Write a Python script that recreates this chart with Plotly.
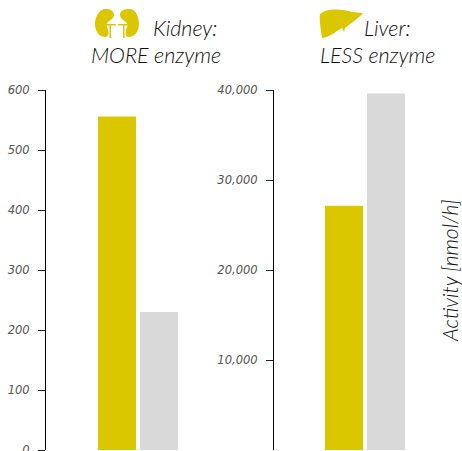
import plotly.graph_objects as go

W, H = 462, 451
categories = ["A", "B"]
kidney_values = [556, 230]
liver_values = [27140, 39600]
kidney_ticks = [0, 100, 200, 300, 400, 500, 600]
liver_ticks = [10000, 20000, 30000, 40000]
liver_ticklabels = ["10,000", "20,000", "30,000", "40,000"]
YELLOW = "#dbc700"
GRAY = "#d9d9d9"
FONT = "Lato"
TICK_FONT = "DejaVu Sans"

def px(x): return x / W
def py(y): return 1 - y / H

def path(cmds):
    out = []
    for c in cmds:
        if isinstance(c, str):
            out.append(c)
        else:
            out.append(f"{px(c[0]):.5f},{py(c[1]):.5f}")
    return " ".join(out)

kidney_l = ["M", (106, 9), "C", (99, 9), (95, 17), (95, 24), "C", (95, 32), (100, 37), (105, 37),
            "C", (107, 37), (108.5, 35.5), (108.5, 33), "C", (108.5, 29), (106.5, 27), (106.5, 25),
            "C", (106.5, 21), (114, 20), (114, 15), "C", (114, 11), (110, 9), (106, 9), "Z"]
kidney_r = ["M", (129, 9), "C", (136, 9), (139, 17), (139, 24), "C", (139, 32), (134, 37), (129, 37),
            "C", (127, 37), (125.5, 35.5), (125.5, 33), "C", (125.5, 29), (127.5, 27), (127.5, 25),
            "C", (127.5, 21), (120, 20), (120, 15), "C", (120, 11), (124, 9), (129, 9), "Z"]
stalks = [
    ["M", (106, 24), "L", (116, 24), "L", (116, 25.5), "L", (106, 25.5), "Z"],
    ["M", (109.5, 25), "L", (111, 25), "L", (111, 38), "L", (109.5, 38), "Z"],
    ["M", (118, 24), "L", (128, 24), "L", (128, 25.5), "L", (118, 25.5), "Z"],
    ["M", (123, 25), "L", (124.5, 25), "L", (124.5, 38), "L", (123, 38), "Z"],
]
liver = ["M", (325, 11), "C", (335, 8), (345, 10), (352, 12), "L", (363, 13), "C", (358, 19), (350, 24), (345, 28),
         "L", (344, 32), "L", (342, 28), "C", (335, 32), (330, 37), (322, 38), "C", (321, 30), (319, 20), (320, 14), "Z"]

fig = go.Figure()
fig.add_bar(x=[0], y=[kidney_values[0]], marker_color=YELLOW, marker_line_width=0, xaxis="x", yaxis="y", width=0.905, showlegend=False)
fig.add_bar(x=[1], y=[kidney_values[1]], marker_color=GRAY, marker_line_width=0, xaxis="x", yaxis="y", width=0.905, showlegend=False)
fig.add_bar(x=[0], y=[liver_values[0]], marker_color=YELLOW, marker_line_width=0, xaxis="x2", yaxis="y2", width=0.905, showlegend=False)
fig.add_bar(x=[1], y=[liver_values[1]], marker_color=GRAY, marker_line_width=0, xaxis="x2", yaxis="y2", width=0.905, showlegend=False)

axis_y = dict(showgrid=False, zeroline=False, showline=True, linecolor="#000", linewidth=1.2,
              ticks="outside", ticklen=7, tickcolor="#222", tickwidth=1, automargin=False,
              ticklabelstandoff=6, ticklabeloverflow="allow",
              tickfont=dict(family=TICK_FONT, size=11.5, color="#555", style="italic"))

def title(x, y, text):
    return dict(x=px(x), y=py(y), xref="paper", yref="paper", text=text, showarrow=False,
                xanchor="center", yanchor="middle",
                font=dict(family=FONT, size=21.5, color="#111", style="italic", weight=300))

fig.update_layout(
    width=W, height=H, margin=dict(l=0, r=0, t=0, b=0), autosize=False,
    plot_bgcolor="#fff", paper_bgcolor="#fff", barmode="overlay",
    xaxis=dict(domain=[px(46), px(200)], range=[-71/42, 83/42], visible=False, automargin=False),
    xaxis2=dict(domain=[px(274), px(430)], range=[-70/42, 86/42], visible=False, automargin=False),
    yaxis=dict(domain=[py(450), py(90)], range=[0, 600], tickvals=kidney_ticks, anchor="x", **axis_y),
    yaxis2=dict(domain=[py(450), py(90)], range=[0, 40000], tickvals=liver_ticks, ticktext=liver_ticklabels, anchor="x2", **axis_y),
    annotations=[
        title(185, 28, "Kidney:"),
        title(156, 55, "MORE enzyme"),
        title(387, 28, "Liver:"),
        title(377, 55, "LESS enzyme"),
        dict(x=px(449), y=py(271), xref="paper", yref="paper", text="Activity [nmol/h]", textangle=-90,
             showarrow=False, xanchor="center", yanchor="middle",
             font=dict(family=FONT, size=21, color="#111", style="italic", weight=300)),
    ],
    shapes=[dict(type="path", xref="paper", yref="paper", path=path(p), fillcolor=YELLOW, line_width=0)
            for p in [kidney_l, kidney_r, liver] + stalks],
)
fig.write_html(
    "out.html",
    config={"displayModeBar": False},
    post_script="document.documentElement.style.margin='0';document.body.style.margin='0';"
                "document.body.style.padding='0';document.body.style.overflow='hidden';"
                "var d=document.querySelector('.plotly-graph-div');d.style.position='absolute';d.style.left='0';d.style.top='0';",
)
